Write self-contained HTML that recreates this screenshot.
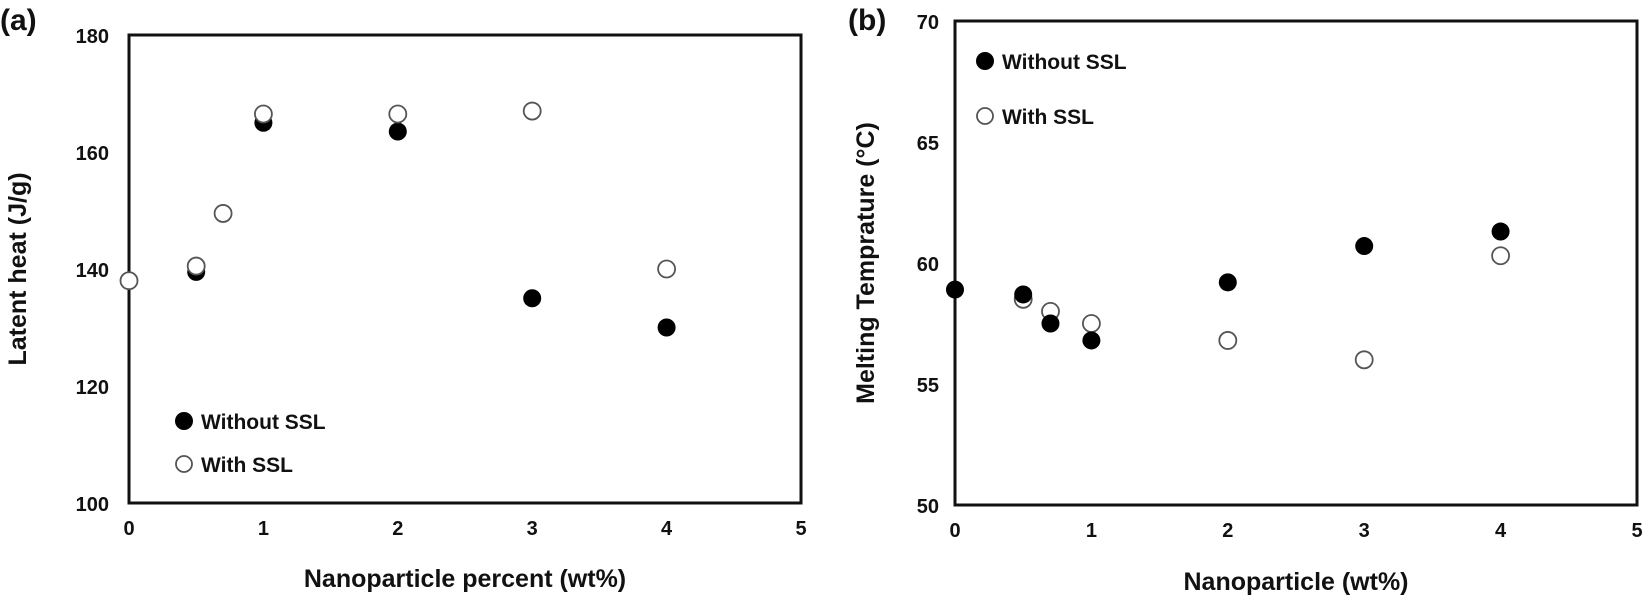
<!DOCTYPE html>
<html><head><meta charset="utf-8"><style>
body{margin:0;background:#fff;}
svg text{font-family:"Liberation Sans",sans-serif;font-weight:bold;fill:#111;}
</style></head><body>
<svg width="1649" height="598" viewBox="0 0 1649 598" id="fig"></svg>
<script>
const xTicks=[0,1,2,3,4,5];
const aYTicks=[100,120,140,160,180];
const bYTicks=[50,55,60,65,70];
const aX=[0,0.5,0.7,1,2,3,4];
const aWithout=[null,139.5,149.5,165,163.5,135,130];
const aWith=[138,140.5,149.5,166.5,166.5,167,140];
const bX=[0,0.5,0.7,1,2,3,4];
const bWithout=[58.9,58.7,57.5,56.8,59.2,60.7,61.3];
const bWith=[null,58.5,58.0,57.5,56.8,56.0,60.3];
const NS='http://www.w3.org/2000/svg';
const svg=document.getElementById('fig');
function mk(tag,attrs,parent){const e=document.createElementNS(NS,tag);for(const k in attrs)e.setAttribute(k,attrs[k]);(parent||svg).appendChild(e);return e;}
function txt(s,x,y,size,anchor,parent,extra){const t=mk('text',Object.assign({x:x,y:y,'font-size':size,'text-anchor':anchor||'middle'},extra||{}),parent);t.textContent=s;return t;}
function panel(p){
 const g=mk('g',{});
 
 
 const sx=v=>p.x0+(v-0)/5*(p.x1-p.x0);
 const sy=v=>p.y1-(v-p.ymin)/(p.ymax-p.ymin)*(p.y1-p.y0);
 const box=mk('rect',{x:p.x0,y:p.y0,width:p.x1-p.x0,height:p.y1-p.y0,fill:'none',stroke:'#111','stroke-width':3},g);
 
 xTicks.forEach(v=>{const t=txt(String(v),sx(v),p.y1+32,20,'middle',g);
  });
 p.yTicks.forEach(v=>{const t=txt(String(v),p.x0-p.ytOff,sy(v)+8,20,'end',g);
  });
 p.xs.forEach((x,i)=>{
  if(p.wo[i]!=null&&p.woFirst){const c=mk('circle',{cx:sx(x),cy:sy(p.wo[i]),r:9,fill:'#000'},g);}
  if(p.wi[i]!=null){const c=mk('circle',{cx:sx(x),cy:sy(p.wi[i]),r:8.5,fill:'#fff',stroke:'#555','stroke-width':1.8},g);}
  if(p.wo[i]!=null&&!p.woFirst){const c=mk('circle',{cx:sx(x),cy:sy(p.wo[i]),r:9,fill:'#000'},g);}
 });
 const xt=txt(p.xTitle,(p.x0+p.x1)/2,p.y1+p.xtOff,25,'middle',g);
 const yt=txt(p.yTitle,0,0,25,'middle',g,{transform:`translate(${p.ytx},${(p.y0+p.y1)/2}) rotate(-90)`});
 const pl=txt(p.label,p.lx,30,30,'start',g);
 const l1=mk('circle',{cx:p.legX,cy:p.legY,r:9,fill:'#000'},g);
 const t1=txt('Without SSL',p.legX+17,p.legY+8,21,'start',g);
 const l2=mk('circle',{cx:p.legX,cy:p.legY+p.legGap,r:8,fill:'#fff',stroke:'#555','stroke-width':1.8},g);
 const t2=txt('With SSL',p.legX+17,p.legY+p.legGap+8,21,'start',g);
}
panel({name:'panel-a',x0:129,x1:801,y0:35,y1:503,ymin:100,ymax:180,yTicks:aYTicks,xs:aX,wo:aWithout,wi:aWith,woFirst:true,ytOff:20,
 xTitle:'Nanoparticle percent (wt%)',yTitle:'Latent heat (J/g)',ytx:26,xtOff:84,label:'(a)',lx:0,legX:184,legY:421,legGap:43});
panel({name:'panel-b',x0:955,x1:1637,y0:21,y1:505,ymin:50,ymax:70,yTicks:bYTicks,xs:bX,wo:bWithout,wi:bWith,woFirst:false,ytOff:16,
 xTitle:'Nanoparticle (wt%)',yTitle:'Melting Temprature (°C)',ytx:874,xtOff:85,label:'(b)',lx:848,legX:985,legY:61,legGap:55});
</script>
</body></html>
